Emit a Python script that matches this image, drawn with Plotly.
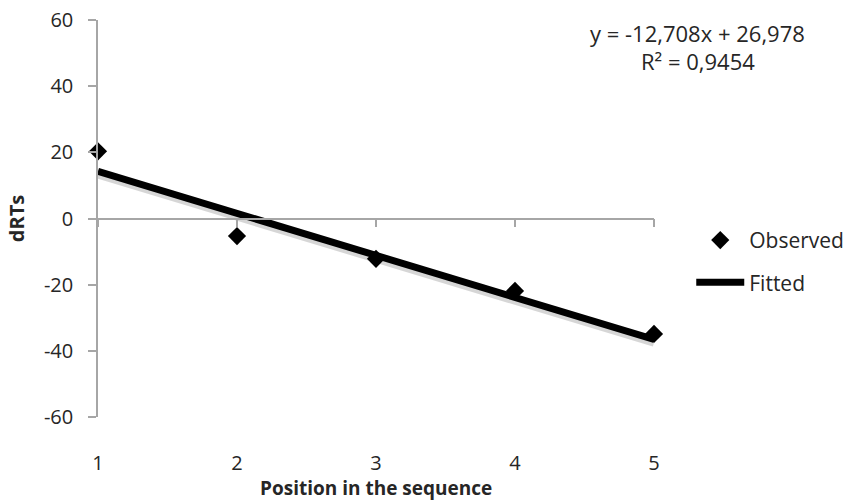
import plotly.graph_objects as go

positions = [1, 2, 3, 4, 5]
observed = [20.3, -5.3, -12.2, -21.9, -34.9]
slope = -12.708
intercept = 26.978
r_squared = 0.9454
y_ticks = [-60, -40, -20, 0, 20, 40, 60]
y_tick_labels = ["-60", "-40", "-20", "0", "20", "40", "60"]
x_tick_labels = ["1", "2", "3", "4", "5"]
x_title = "Position in the sequence"
y_title = "dRTs"

fitted = [slope * x + intercept for x in positions]

font_family = "Open Sans, Lato, sans-serif"
txt = "#262626"

fig = go.Figure()
# soft shadow under the fitted line
fig.add_trace(go.Scatter(x=positions, y=[v - 1.0 for v in fitted], mode="lines",
                         line=dict(color="rgba(0,0,0,0.16)", width=8),
                         showlegend=False, hoverinfo="skip"))
fig.add_trace(go.Scatter(x=positions, y=observed, mode="markers", name="Observed",
                         legendgroup="a",
                         marker=dict(symbol="diamond", size=14, color="black"),
                         cliponaxis=False))
fig.add_trace(go.Scatter(x=positions, y=fitted, mode="lines", name="Fitted",
                         legendgroup="b",
                         line=dict(color="black", width=7), cliponaxis=False))
# helper trace on a secondary x axis that is drawn along y = 0
fig.add_trace(go.Scatter(x=positions, y=[0] * len(positions), mode="lines",
                         line=dict(width=0), showlegend=False, hoverinfo="skip",
                         xaxis="x2", yaxis="y"))

fig.update_layout(
    width=853, height=502, autosize=False,
    margin=dict(l=98, r=199, t=20, b=85, autoexpand=False),
    plot_bgcolor="white", paper_bgcolor="white",
    font=dict(family=font_family, color=txt, size=21),
    xaxis=dict(range=[1, 5], tickvals=positions, ticktext=x_tick_labels,
               showgrid=False, zeroline=False, automargin=False,
               showline=False, ticks="", ticklabelstandoff=32,
               tickfont=dict(size=20, color=txt)),
    xaxis2=dict(range=[1, 5], tickvals=positions, overlaying="x", anchor="free",
                position=0.5, showline=True, linecolor="#a6a6a6", linewidth=1.5,
                ticks="outside", ticklen=8, tickcolor="#a6a6a6", tickwidth=1.5,
                showticklabels=False, showgrid=False, zeroline=False,
                side="bottom", automargin=False),
    yaxis=dict(range=[-60, 60], tickvals=y_ticks, ticktext=y_tick_labels,
               showgrid=False, zeroline=False, automargin=False,
               showline=True, linecolor="#a6a6a6", linewidth=1.5, ticks="outside",
               ticklen=8, tickcolor="#a6a6a6", tickwidth=1.5,
               tickfont=dict(size=20, color=txt), ticklabelstandoff=11,
               title=dict(text=f"<b>{y_title}</b>", font=dict(size=20, color=txt), standoff=14)),
    legend=dict(x=1.067, y=0.392, xanchor="left", yanchor="middle",
                font=dict(size=21, color=txt), itemwidth=48, tracegroupgap=12,
                bgcolor="rgba(0,0,0,0)"),
    showlegend=True,
)
fig.add_annotation(text=f"<b>{x_title}</b>", xref="paper", yref="paper",
                   x=0.5, y=-0.179, xanchor="center", yanchor="middle",
                   showarrow=False, font=dict(size=19, color=txt))
eq1 = f"y = {slope:.3f}x + {intercept:.3f}".replace(".", ",")
eq2 = f"R² = {r_squared:.4f}".replace(".", ",")
fig.add_annotation(text=eq1, xref="paper", yref="paper", x=1.079, y=0.967,
                   xanchor="center", yanchor="middle", showarrow=False,
                   font=dict(size=22, color=txt))
fig.add_annotation(text=eq2, xref="paper", yref="paper", x=1.079, y=0.897,
                   xanchor="center", yanchor="middle", showarrow=False,
                   font=dict(size=22, color=txt))

fig.write_html("out.html",
               config={"displayModeBar": False, "responsive": False},
               post_script="document.body.style.margin='0';document.body.style.padding='0';document.body.style.overflow='hidden';")
